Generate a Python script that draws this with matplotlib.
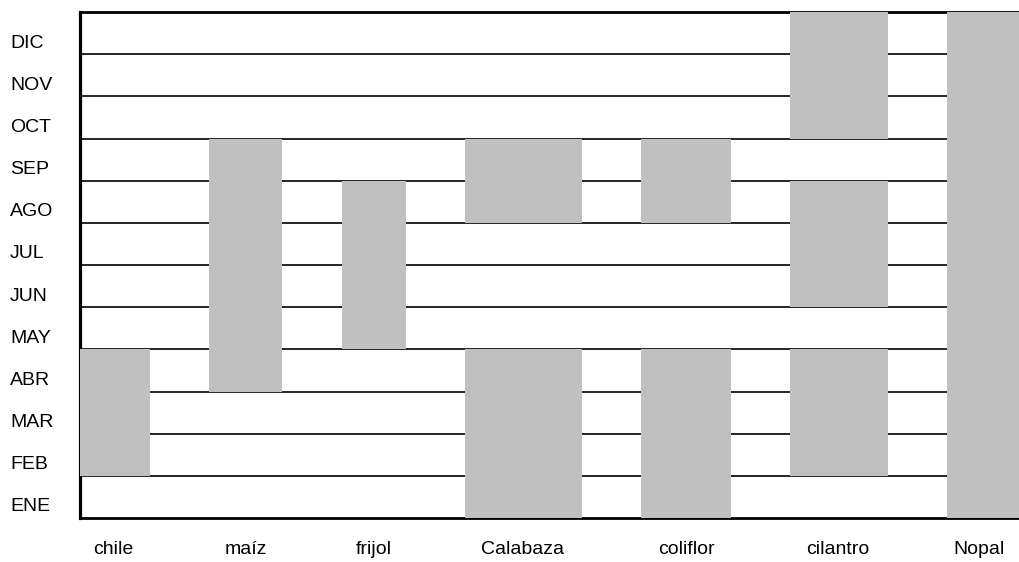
import matplotlib
matplotlib.use("Agg")
import matplotlib.pyplot as plt

plt.rcParams['font.family'] = ['Liberation Sans', 'DejaVu Sans']

months = ['ENE', 'FEB', 'MAR', 'ABR', 'MAY', 'JUN', 'JUL', 'AGO', 'SEP', 'OCT', 'NOV', 'DIC']
crops = ['chile', 'maíz', 'frijol', 'Calabaza', 'coliflor', 'cilantro', 'Nopal']
# (first month index, number of months) for each crop
periods = [
    [(1, 3)],
    [(3, 6)],
    [(4, 4)],
    [(0, 4), (7, 2)],
    [(0, 4), (7, 2)],
    [(1, 3), (5, 3), (9, 3)],
    [(0, 12)],
]

# layout in pixel-like x units (axis spans 80..1019)
label_x = [113, 246, 374, 523, 686, 838, 979]
bar_left = [76, 209, 342, 465, 641, 790, 947]
bar_width = [74, 73, 64, 117, 90, 98, 80]

fig = plt.figure(figsize=(10.19, 5.62), dpi=100)
ax = fig.add_axes([80 / 1019, 1 - 518 / 562, 1 - 80 / 1019, (518 - 12) / 562])

for i, spans in enumerate(periods):
    for start, n in spans:
        ax.bar(bar_left[i], n, width=bar_width[i], bottom=start, align='edge',
               color='#c0c0c0', edgecolor='none', zorder=3)

for k in range(1, 12):
    ax.axhline(k, color='black', lw=1.2, zorder=1)

ax.set_xlim(80, 1019)
ax.set_ylim(0, 12)

ax.spines['right'].set_visible(False)
ax.spines['left'].set_linewidth(2.3)
ax.spines['bottom'].set_linewidth(2.0)
ax.spines['top'].set_linewidth(2.0)
ax.spines['top'].set_zorder(2)

ax.set_xticks(label_x)
ax.set_xticklabels(crops, fontsize=14)
ax.set_yticks([k + 0.31 for k in range(12)])
ax.set_yticklabels(months, fontsize=14, ha='left')
ax.tick_params(axis='both', length=0)
ax.tick_params(axis='y', pad=50.4)
ax.tick_params(axis='x', pad=16.5)

fig.savefig('out.png', dpi=100)
